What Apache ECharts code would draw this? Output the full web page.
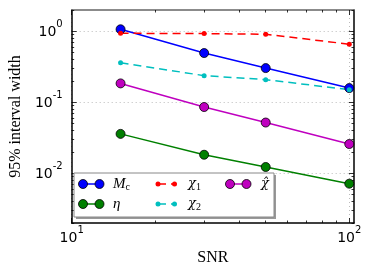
<!DOCTYPE html>
<html><head><meta charset="utf-8">
<script src="https://cdn.jsdelivr.net/npm/echarts@6/dist/echarts.min.js"></script>
<style>html,body{margin:0;padding:0;background:#fff}#c{width:374px;height:277px}</style>
</head><body><div id="c"></div>
<script>
// ---- data ----
const snr = [15, 30, 50, 100];
const mc = [1.07, 0.495, 0.304, 0.159];
const eta = [0.036, 0.0183, 0.0123, 0.00716];
const chi1 = [0.94, 0.93, 0.91, 0.66];
const chi2 = [0.362, 0.238, 0.209, 0.151];
const chihat = [0.185, 0.086, 0.052, 0.0259];
const xMajor = [10, 100];
const xMinor = [20, 30, 40, 50, 60, 70, 80, 90];
const yMajor = [0.01, 0.1, 1];
const yMinor = [0.002,0.003,0.004,0.005,0.006,0.007,0.008,0.009,
                0.02,0.03,0.04,0.05,0.06,0.07,0.08,0.09,
                0.2,0.3,0.4,0.5,0.6,0.7,0.8,0.9,2];
const xRange = [10, 104];
const yRange = [0.002, 2];

const seriesDefs = [
  {name: 'Mc', data: mc, color: '#0000ff', dashed: false, big: true, label: '{i|M}{sub|c}'},
  {name: 'eta', data: eta, color: '#008000', dashed: false, big: true, label: '{i|η}'},
  {name: 'chi1', data: chi1, color: '#ff0000', dashed: true, big: false, label: '{g|χ}{sub|1}'},
  {name: 'chi2', data: chi2, color: '#00bfbf', dashed: true, big: false, label: '{g|χ}{sub|2}'},
  {name: 'chihat', data: chihat, color: '#bf00bf', dashed: false, big: true, label: '{g|χ\u0302}'}
];

const chart = echarts.init(document.getElementById('c'), null, {renderer: 'canvas'});
const pairs = v => snr.map((s, i) => [s, v[i]]);
const powLabel = n => {
  const e = Math.round(Math.log10(n));
  return '{b|10}{s|' + e + '}';
};
const rich = {
  b: {fontFamily: 'DejaVu Sans', fontSize: 14, lineHeight: 20, verticalAlign: 'bottom', color: '#000'},
  s: {fontFamily: 'DejaVu Sans', fontSize: 10, lineHeight: 12, verticalAlign: 'top', color: '#000'}
};
const lineBlack = {show: true, lineStyle: {color: '#000', width: 1.5}};
const grid = {left: 68, right: 20, top: 10, bottom: 54};

function mkAxis(range, pos, ticks, len, opts) {
  return Object.assign({
    type: 'log', min: range[0], max: range[1], position: pos, logBase: 10,
    axisLine: {show: false},
    axisTick: {show: true, inside: true, length: len, customValues: ticks, lineStyle: {color: '#000', width: 0.8}},
    axisLabel: {show: false},
    splitLine: {show: false},
    minorTick: {show: false}
  }, opts || {});
}

const xAxis = [
  mkAxis(xRange, 'bottom', xMajor, 5, {
    axisLine: lineBlack,
    axisLabel: {show: true, customValues: xMajor, margin: 2, formatter: powLabel, rich: rich,
      align: 'center', alignMinLabel: 'center', alignMaxLabel: 'center', hideOverlap: false},
    splitLine: {show: true, lineStyle: {color: '#aaa', type: [1, 3], width: 0.8}},
    name: 'SNR', nameLocation: 'middle', nameGap: 27,
    nameTextStyle: {fontFamily: 'Liberation Serif', fontSize: 16, color: '#000'}
  }),
  mkAxis(xRange, 'bottom', xMinor, 2.5),
  mkAxis(xRange, 'top', xMajor, 5, {axisLine: {show: true, lineStyle: {color: '#666', width: 1.5}}}),
  mkAxis(xRange, 'top', xMinor, 2.5)
];
const yAxis = [
  mkAxis(yRange, 'left', yMajor, 5, {
    axisLine: lineBlack,
    axisLabel: {show: true, customValues: yMajor, margin: 9, padding: [0, 0, 4, 0], formatter: powLabel, rich: rich},
    splitLine: {show: true, lineStyle: {color: '#aaa', type: [1, 3], width: 0.8}},
    name: '95% interval width', nameLocation: 'middle', nameGap: 43,
    nameTextStyle: {fontFamily: 'Liberation Serif', fontSize: 16, color: '#000'}
  }),
  mkAxis(yRange, 'left', yMinor, 2.5),
  mkAxis(yRange, 'right', yMajor, 5, {axisLine: lineBlack}),
  mkAxis(yRange, 'right', yMinor, 2.5)
];

const series = seriesDefs.map(d => ({
  name: d.name, type: 'line', xAxisIndex: 0, yAxisIndex: 0,
  data: pairs(d.data),
  symbol: 'circle', symbolSize: d.big ? 9 : 5,
  lineStyle: {color: d.color, width: 1.5, type: d.dashed ? [8, 5] : 'solid'},
  itemStyle: {color: d.color, borderColor: d.big ? '#000' : d.color, borderWidth: d.big ? 0.8 : 0},
  emphasis: {disabled: true}, animation: false, z: 3
}));

// legend (drawn as graphic: 3 columns x 2 rows, column-major order)
const legBox = {x: 74, y: 173, w: 200, h: 44};
const colIcon = [83, 158, 230];
const colText = [113, 188, 261];
const rowY = [184, 204];
const iconSpan = 16.5;
const legChildren = [
  {type: 'rect', shape: {x: legBox.x + 2, y: legBox.y + 2, width: legBox.w, height: legBox.h}, style: {fill: '#999'}, z: 10},
  {type: 'rect', shape: {x: legBox.x, y: legBox.y, width: legBox.w, height: legBox.h}, style: {fill: '#fff', stroke: '#888', lineWidth: 1}, z: 11}
];
const legRich = {
  i: {fontFamily: 'Liberation Serif', fontStyle: 'italic', fontSize: 15, lineHeight: 16, verticalAlign: 'middle', color: '#000'},
  g: {fontFamily: 'DejaVu Serif', fontStyle: 'italic', fontSize: 13, lineHeight: 16, verticalAlign: 'middle', color: '#000'},
  sub: {fontFamily: 'Liberation Serif', fontSize: 10, lineHeight: 6, verticalAlign: 'bottom', color: '#000'}
};
seriesDefs.forEach((d, k) => {
  const c = Math.floor(k / 2), r = k % 2;
  const x0 = colIcon[c], y = rowY[r];
  legChildren.push({type: 'line', shape: {x1: x0, y1: y, x2: x0 + iconSpan, y2: y},
    style: {stroke: d.color, lineWidth: 1.5, lineDash: d.dashed ? [8, 5] : null}, z: 12});
  [x0, x0 + iconSpan].forEach(cx => legChildren.push({type: 'circle', shape: {cx: cx, cy: y, r: d.big ? 4.5 : 2.5},
    style: {fill: d.color, stroke: d.big ? '#000' : null, lineWidth: 0.8}, z: 13}));
  legChildren.push({type: 'text', x: colText[c], y: y,
    style: {text: d.label, rich: legRich, verticalAlign: 'middle', align: 'left'}, z: 13});
});

chart.setOption({
  animation: false,
  backgroundColor: '#fff',
  grid: grid,
  xAxis: xAxis,
  yAxis: yAxis,
  series: series,
  graphic: legChildren
});
</script></body></html>
